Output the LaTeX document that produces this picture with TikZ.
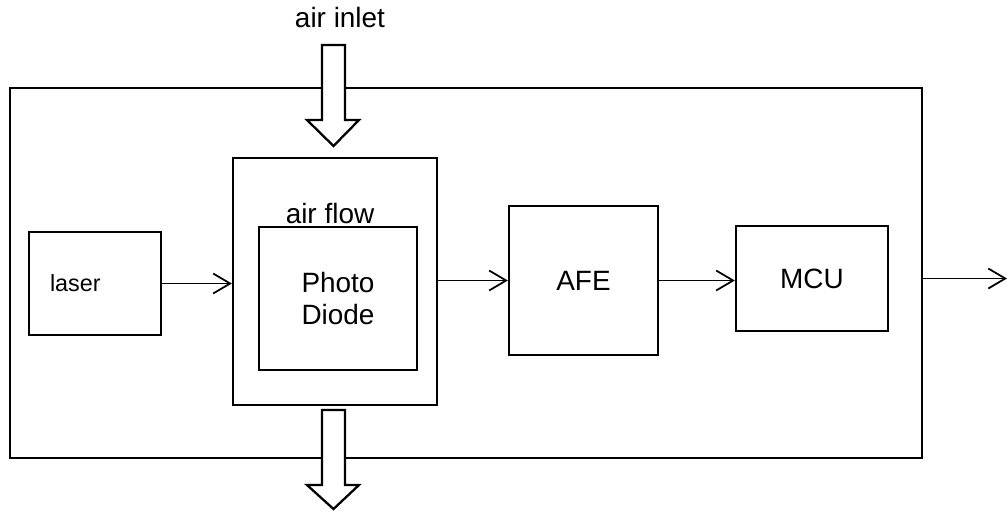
\documentclass[tikz,border=0pt]{standalone}
\usepackage{fontspec}
\setmainfont{Liberation Sans}
\usetikzlibrary{arrows.meta}
\begin{document}
\begin{tikzpicture}[
    x=0.02cm,y=-0.02cm,
    every node/.style={font=\fontsize{15.9}{18.5}\selectfont},
    frame/.style={draw=black, line width=1.3pt, inner sep=0pt},
    ptr/.style={-{Straight Barb[length=3.4mm,width=4mm]}, line width=1pt},
    flow/.style={draw=black, line width=1.3pt, fill=white, line join=miter}
]
    \useasboundingbox (0,0) rectangle (1007,511);

    \node[frame, minimum width=18.24cm, minimum height=7.4cm] (board) at (466,273) {};
    \node[frame, minimum height=2.06cm, text width=1.8cm, inner xsep=0.42cm, align=left,
          font=\fontsize{13.3}{16}\selectfont] (laser) at (95,283.5) {laser};
    \node[frame, minimum width=4.08cm, minimum height=4.94cm] (chamber) at (335,281.5) {};
    \node[frame, minimum width=3.16cm, minimum height=2.86cm, align=center] (diode) at (338,298.5) {Photo\\Diode};
    \node[frame, minimum width=2.98cm, minimum height=2.98cm] (afe) at (583.5,280.5) {AFE};
    \node[frame, minimum width=3.04cm, minimum height=2.1cm] (mcu) at (812,278.5) {MCU};

    \node[anchor=base] (flowlbl) at (330,223) {air flow};
    \node[anchor=base] (inletlbl) at (340,27) {air inlet};

    % air in and out
    \foreach \yt/\yh/\yp in {45/120/146, 410/485/509} {
        \draw[flow] (322,\yt) -- (345,\yt) -- (345,\yh) -- (359,\yh) -- (333.5,\yp)
            -- (307,\yh) -- (322,\yh) -- cycle;
    }

    \coordinate (out) at (1007,278.5);
    \draw[ptr] (laser.east) -- (laser.east -| chamber.west);
    \draw[ptr] (chamber.east |- afe.west) -- (afe.west);
    \draw[ptr] (afe.east) -- (afe.east -| mcu.west);
    \draw[ptr] (board.east |- mcu.east) -- (out);
\end{tikzpicture}
\end{document}
